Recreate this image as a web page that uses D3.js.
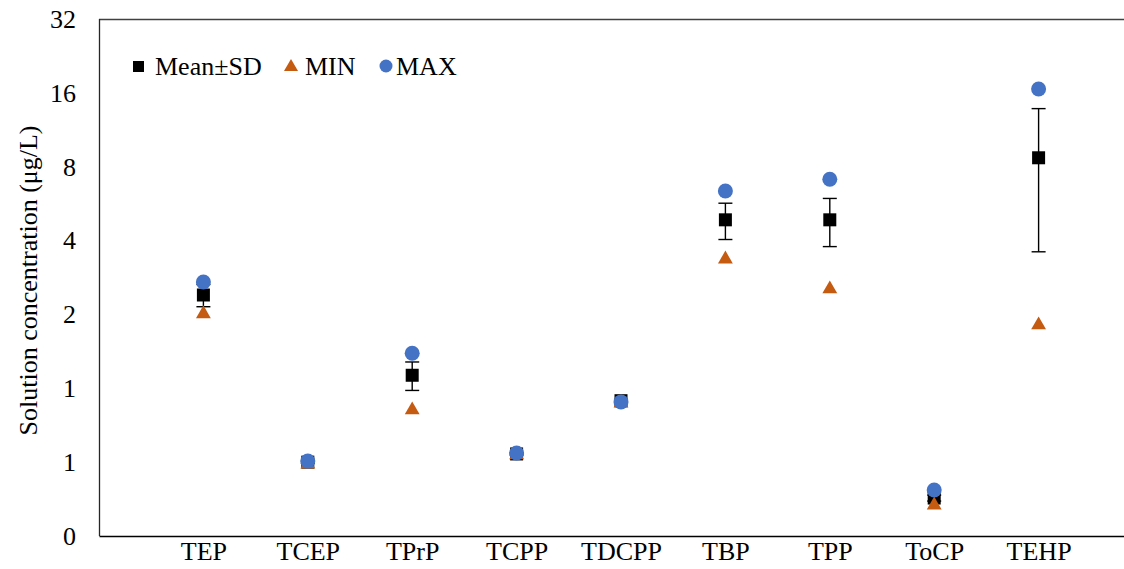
<!DOCTYPE html>
<html>
<head>
<meta charset="utf-8">
<script src="https://cdn.jsdelivr.net/npm/d3@7"></script>
<style>
  html, body { margin: 0; padding: 0; background: #fff; }
  svg { display: block; }
  text { font-family: "Liberation Serif", "Times New Roman", serif; fill: #000; }
</style>
</head>
<body>
<svg id="chart" width="1124" height="569"></svg>
<script>
// Organophosphate esters measured in solution (µg/L)
const compounds = ["TEP", "TCEP", "TPrP", "TCPP", "TDCPP", "TBP", "TPP", "ToCP", "TEHP"];
const meanValues = [2.40, 0.50, 1.13, 0.54, 0.89, 4.86, 4.86, 0.357, 8.7];
const sdValues   = [0.25, 0.005, 0.15, 0.005, 0.01, 0.82, 1.08, 0.01, 5.1];
const minValues  = [2.01, 0.49, 0.816, 0.535, 0.87, 3.36, 2.54, 0.334, 1.81];
const maxValues  = [2.71, 0.505, 1.39, 0.545, 0.88, 6.37, 7.11, 0.385, 16.6];
const yTickValues = [0.25, 0.5, 1, 2, 4, 8, 16, 32];
const yTickLabels = ["0", "1", "1", "2", "4", "8", "16", "32"];

const FONT = "26px";
const svg = d3.select("#chart");
const plot = { left: 99, top: 19, bottom: 536, right: 1143 };

// positions 1..9 on a 0..10 value axis
const x = d3.scaleLinear().domain([0, 10]).range([plot.left, plot.right]);
const y = d3.scaleLog().base(2).domain([0.25, 32]).range([plot.bottom, plot.top]);

// plot frame
svg.append("line").attr("x1", plot.left).attr("x2", plot.right)
  .attr("y1", plot.top + 0.5).attr("y2", plot.top + 0.5)
  .attr("stroke", "#404040").attr("stroke-width", 1.3);
svg.append("line").attr("x1", plot.left + 0.5).attr("x2", plot.left + 0.5)
  .attr("y1", plot.top).attr("y2", plot.bottom)
  .attr("stroke", "#262626").attr("stroke-width", 1.3);

// y axis (labels only)
const yAxis = d3.axisLeft(y).tickValues(yTickValues)
  .tickFormat((d, i) => yTickLabels[i]).tickSize(0).tickPadding(23);
const gy = svg.append("g").attr("transform", `translate(${plot.left},0)`).call(yAxis);
gy.select(".domain").remove();
gy.selectAll("text").style("font-size", FONT)
  .style("font-family", "'Liberation Serif', serif");

// x axis (labels only)
const xAxis = d3.axisBottom(x).tickValues(d3.range(1, compounds.length + 1))
  .tickFormat(d => compounds[d - 1]).tickSize(0).tickPadding(6);
const gx = svg.append("g").attr("transform", `translate(0,${plot.bottom})`).call(xAxis);
gx.select(".domain").attr("stroke", "#000").attr("stroke-width", 1.6);
gx.selectAll("text").style("font-size", FONT)
  .style("font-family", "'Liberation Serif', serif");

// y axis title
svg.append("text")
  .attr("transform", `translate(37,${(plot.top + plot.bottom) / 2 + 3}) rotate(-90)`)
  .attr("text-anchor", "middle")
  .style("font-size", FONT)
  .text("Solution concentration (μg/L)");

const data = compounds.map((c, i) => ({
  name: c, pos: i + 1, mean: meanValues[i], sd: sdValues[i],
  min: minValues[i], max: maxValues[i]
}));

// error bars (mean ± SD)
const capHalf = 7;
const eb = svg.append("g").attr("stroke", "#000").attr("stroke-width", 1.4);
data.forEach(d => {
  const xc = x(d.pos);
  const y1 = y(d.mean + d.sd), y2 = y(d.mean - d.sd);
  eb.append("line").attr("x1", xc).attr("x2", xc).attr("y1", y1).attr("y2", y2);
  eb.append("line").attr("x1", xc - capHalf).attr("x2", xc + capHalf).attr("y1", y1).attr("y2", y1);
  eb.append("line").attr("x1", xc - capHalf).attr("x2", xc + capHalf).attr("y1", y2).attr("y2", y2);
});

const sq = 13;
const triangle = d3.symbol().type(d3.symbolTriangle).size(95);

// mean markers
svg.append("g").selectAll("rect").data(data).join("rect")
  .attr("x", d => x(d.pos) - sq / 2).attr("y", d => y(d.mean) - sq / 2)
  .attr("width", sq).attr("height", sq).attr("fill", "#000");

// minimum markers
svg.append("g").selectAll("path").data(data).join("path")
  .attr("d", triangle)
  .attr("transform", d => `translate(${x(d.pos)},${y(d.min)})`)
  .attr("fill", "#C55A11");

// maximum markers
svg.append("g").selectAll("circle").data(data).join("circle")
  .attr("cx", d => x(d.pos)).attr("cy", d => y(d.max)).attr("r", 7.5)
  .attr("fill", "#4472C4");

// legend
const legend = svg.append("g").attr("transform", "translate(0,66)");
legend.append("rect").attr("x", 133).attr("y", -5).attr("width", 11).attr("height", 11).attr("fill", "#000");
legend.append("text").attr("x", 155).attr("y", 9).style("font-size", FONT).text("Mean±SD");
legend.append("path").attr("d", d3.symbol().type(d3.symbolTriangle).size(85))
  .attr("transform", "translate(291,1)").attr("fill", "#C55A11");
legend.append("text").attr("x", 305).attr("y", 9).style("font-size", FONT).text("MIN");
legend.append("circle").attr("cx", 386).attr("cy", 0).attr("r", 6.5).attr("fill", "#4472C4");
legend.append("text").attr("x", 396).attr("y", 9).style("font-size", FONT).text("MAX");
</script>
</body>
</html>
